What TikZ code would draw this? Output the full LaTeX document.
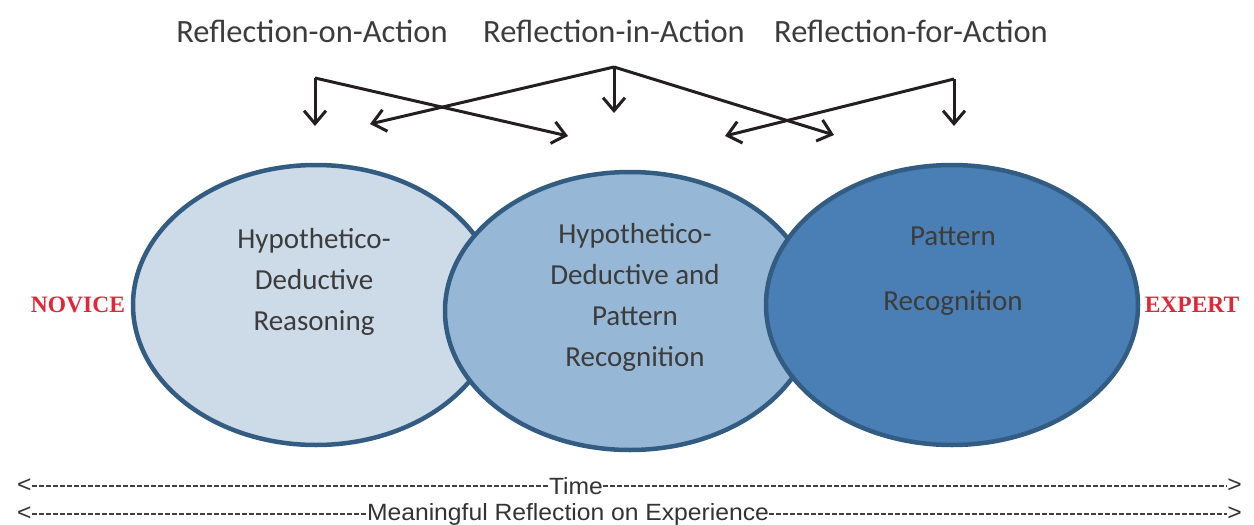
\documentclass[tikz,border=0pt]{standalone}
\usepackage{fontspec}
\setmainfont{Carlito}
\newfontfamily\serifred{Liberation Serif}
\newfontfamily\narrowfont[FakeStretch=1.05]{Liberation Sans}
\usetikzlibrary{arrows.meta}
\definecolor{edgeblue}{RGB}{50,92,130}
\definecolor{fillA}{RGB}{205,218,231}
\definecolor{fillB}{RGB}{150,184,214}
\definecolor{fillC}{RGB}{74,127,181}
\definecolor{txtgrey}{RGB}{60,60,60}
\definecolor{arrowdark}{RGB}{35,31,32}
\definecolor{redlab}{RGB}{226,38,56}
\tikzset{
  x=1pt, y=-1pt,
  stage/.style={draw=edgeblue, line width=4.5pt},
  toplabel/.style={font=\fontsize{32.5}{34}\selectfont, text=txtgrey, inner sep=0pt},
  intext/.style={font=\fontsize{29}{41}\selectfont, text=txtgrey, align=center, inner sep=0pt},
  endlabel/.style={font=\serifred\bfseries\fontsize{23.5}{26}\selectfont, text=redlab, inner sep=0pt},
  bar/.style={font=\narrowfont\fontsize{23.5}{25}\selectfont, text=black!80, inner sep=0pt},
  refl/.style={draw=arrowdark, line width=3pt, -{Straight Barb[length=13pt,width=22pt]}},
  dashes/.style={draw=black!75, line width=1.1pt, dash pattern=on 5pt off 2pt},
}
\begin{document}
\begin{tikzpicture}
\useasboundingbox (0,0) rectangle (1254,525);
% ellipses
\fill[fillA, stage] (316,305) ellipse [x radius=183, y radius=140];
\fill[fillB, stage] (630,311) ellipse [x radius=185, y radius=139];
\fill[fillC, stage] (952,305) ellipse [x radius=186, y radius=140];
% texts in ellipses
\node[intext] (hd) at (314,282) {Hypothetico-\\Deductive\\Reasoning};
\node[intext] (hdp) at (635,297) {Hypothetico-\\Deductive and\\Pattern\\Recognition};
\node[intext, font=\fontsize{29}{65}\selectfont] (pr) at (953,271) {Pattern\\Recognition};
% end labels
\node[endlabel] (nov) at (78,305) {NOVICE};
\node[endlabel] (exp) at (1192,305) {EXPERT};
% top labels
\node[toplabel] (ron) at (312,31) {Reflection-on-Action};
\node[toplabel] (rin) at (614,31) {Reflection-in-Action};
\node[toplabel] (rfor) at (911,31) {Reflection-for-Action};
% arrow coordinates
\coordinate (a0) at (315,78);
\coordinate (a1) at (315,126);
\coordinate (a2) at (568,136);
\coordinate (b0) at (614,67);
\coordinate (b1) at (614,113);
\coordinate (b2) at (370,124);
\coordinate (b3) at (834,135);
\coordinate (c0) at (954,79);
\coordinate (c1) at (954,126);
\coordinate (c2) at (725,136);
\draw[refl] (a0) -- (a1);
\draw[refl] (a0) -- (a2);
\draw[refl] (b0) -- (b1);
\draw[refl] (b0) -- (b2);
\draw[refl] (b0) -- (b3);
\draw[refl] (c0) -- (c1);
\draw[refl] (c0) -- (c2);
% bottom dashed lines
\node[bar] (time) at (576,486) {Time};
\node[bar] (mre) at (568,514) {Meaningful Reflection on Experience};
\node[bar, anchor=west] (tl) at (17,486) {<};
\node[bar, anchor=east] (tr) at (1242,486) {>};
\node[bar, anchor=west] (ml) at (17,514) {<};
\node[bar, anchor=east] (mr) at (1242,514) {>};
\draw[dashes] (tl.east) -- (time.west);
\draw[dashes] (time.east) -- (tr.west);
\draw[dashes] (ml.east) -- (mre.west);
\draw[dashes] (mre.east) -- (mr.west);
\end{tikzpicture}
\end{document}
